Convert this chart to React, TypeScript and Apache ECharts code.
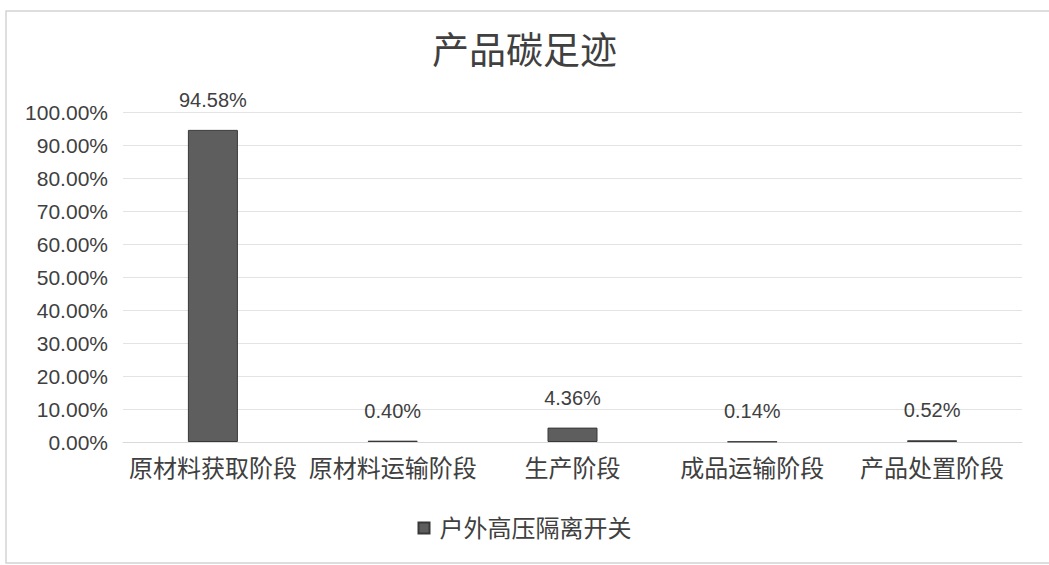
import React, { useEffect, useRef } from "react";
import * as echarts from "echarts";

const categories = ["原材料获取阶段", "原材料运输阶段", "生产阶段", "成品运输阶段", "产品处置阶段"];
const seriesName = "户外高压隔离开关";
const values = [94.58, 0.4, 4.36, 0.14, 0.52];
const yTicks = [0, 10, 20, 30, 40, 50, 60, 70, 80, 90, 100];

const FONT = "'Liberation Sans', 'Noto Sans CJK SC', sans-serif";

export default function App() {
  const ref = useRef<HTMLDivElement>(null);
  useEffect(() => {
    if (!ref.current) return;
    const chart = echarts.init(ref.current, null, { renderer: "svg" });
    chart.setOption({
      animation: false,
      backgroundColor: "#ffffff",
      title: {
        text: "产品碳足迹",
        left: "center",
        top: 28,
        textStyle: { fontFamily: FONT, fontSize: 37, fontWeight: "normal", color: "#404040" },
      },
      graphic: [
        {
          type: "rect",
          shape: { x: 6, y: 11, width: 1060, height: 552 },
          style: { fill: "none", stroke: "#d4d4d4", lineWidth: 1.5 },
          silent: true,
        },
      ],
      legend: {
        bottom: 20,
        left: "center",
        itemWidth: 11,
        itemHeight: 11,
        icon: "rect",
        itemGap: 6,
        textStyle: { fontFamily: FONT, fontSize: 24, color: "#404040", padding: [0, 0, 0, 5] },
        data: [seriesName],
      },
      grid: { left: 123, right: 27, top: 112, bottom: 123, containLabel: false },
      xAxis: {
        type: "category",
        data: categories,
        axisLine: { lineStyle: { color: "#d9d9d9", width: 1 } },
        axisTick: { show: false },
        axisLabel: { fontFamily: FONT, fontSize: 24, color: "#404040", margin: 14, interval: 0 },
      },
      yAxis: {
        type: "value",
        min: 0,
        max: 100,
        interval: 10,
        axisLine: { show: false },
        axisTick: { show: false },
        splitLine: { lineStyle: { color: "#e3e3e3", width: 1 } },
        axisLabel: {
          fontFamily: FONT,
          fontSize: 21,
          color: "#404040",
          margin: 15,
          formatter: (v: number) => (yTicks.includes(v) ? v.toFixed(2) + "%" : ""),
        },
      },
      series: [
        {
          name: seriesName,
          type: "bar",
          data: values,
          barWidth: 50,
          itemStyle: { color: "#5e5e5e", borderColor: "#383838", borderWidth: 1 },
          label: {
            show: true,
            position: "top",
            distance: 20,
            fontFamily: FONT,
            fontSize: 20,
            color: "#404040",
            formatter: (p: any) => p.value.toFixed(2) + "%",
          },
        },
      ],
    });
    return () => chart.dispose();
  }, []);
  return (
    <div
      ref={ref}
      style={{ position: "absolute", left: 0, top: 0, width: 1049, height: 565 }}
    />
  );
}
